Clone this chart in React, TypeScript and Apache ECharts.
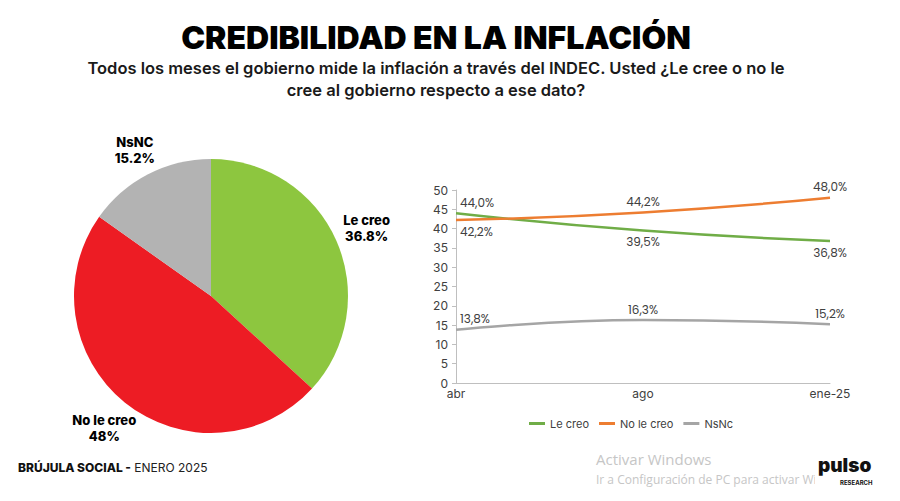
import React, { useEffect, useRef } from "react";
import * as echarts from "echarts";

const pieNames = ["Le creo", "No le creo", "NsNC"];
const pieValues = [36.8, 48, 15.2];
const pieLabels = ["36.8%", "48%", "15.2%"];
const pieColors = ["#8DC63F", "#ED1C24", "#B3B3B3"];

const months = ["abr", "ago", "ene-25"];
const seriesNames = ["Le creo", "No le creo", "NsNc"];
const leCreo = [44.0, 39.5, 36.8];
const noLeCreo = [42.2, 44.2, 48.0];
const nsnc = [13.8, 16.3, 15.2];
const lineColors = ["#70AD47", "#ED7D31", "#A5A5A5"];
const labelPos = [
  ["top", "bottom", "bottom"],
  ["bottom", "top", "top"],
  ["top", "top", "top"],
];
const yTicks = { min: 0, max: 50, interval: 5 };

const fmt = (v: number) => v.toFixed(1).replace(".", ",") + "%";

export default function App() {
  const ref = useRef<HTMLDivElement>(null);
  useEffect(() => {
    document.body.style.margin = "0";
    const chart = echarts.init(ref.current!, null, { renderer: "svg" });
    const lineData = [leCreo, noLeCreo, nsnc];
    const lineSeries = lineData.map((arr, si) => ({
      type: "line",
      name: seriesNames[si],
      smooth: 0.5,
      symbol: "circle",
      symbolSize: 0.1,
      showSymbol: true,
      lineStyle: { width: 2.5, color: lineColors[si] },
      itemStyle: { color: lineColors[si] },
      data: arr.map((v, i) => ({
        value: v,
        label:
          i === 0
            ? { show: true, position: labelPos[si][i], align: "left", offset: [4, 0] }
            : { show: true, position: labelPos[si][i] },
      })),
      label: {
        show: true,
        formatter: (p: any) => fmt(Number(p.value)),
        color: "#404040",
        fontSize: 12,
        fontFamily: "Poppins, Inter, sans-serif",
        distance: 5,
      },
      z: 3,
    }));
    chart.setOption({
      animation: false,
      backgroundColor: "#ffffff",
      textStyle: { fontFamily: "Inter, sans-serif" },
      title: [
        {
          text: "CREDIBILIDAD EN LA INFLACIÓN",
          left: 431,
          top: 16,
          textAlign: "center",
          textStyle: { fontSize: 32, fontWeight: 900, color: "#000", fontFamily: "Inter, sans-serif" },
        },
        {
          text: "Todos los meses el gobierno mide la inflación a través del INDEC. Usted ¿Le cree o no le\ncree al gobierno respecto a ese dato?",
          left: 431,
          top: 52,
          textAlign: "center",
          textStyle: {
            fontSize: 16.5,
            fontWeight: 600,
            color: "#1a1a1a",
            lineHeight: 22,
            align: "center",
            fontFamily: "Inter, sans-serif",
          },
        },
      ],
      legend: {
        data: seriesNames,
        left: 524,
        top: 413,
        icon: "rect",
        itemWidth: 16,
        itemHeight: 3,
        itemGap: 10,
        textStyle: { fontSize: 11, color: "#404040" },
      },
      grid: { left: 456, right: 70, top: 190, bottom: 118 },
      xAxis: {
        type: "category",
        data: months,
        boundaryGap: false,
        axisLine: { lineStyle: { color: "#bfbfbf", width: 1 } },
        axisTick: { show: false },
        axisLabel: { color: "#404040", fontSize: 12, margin: 4 },
      },
      yAxis: {
        type: "value",
        min: yTicks.min,
        max: yTicks.max,
        interval: yTicks.interval,
        axisLine: { show: true, lineStyle: { color: "#bfbfbf", width: 1 } },
        axisTick: { show: true, length: 4, lineStyle: { color: "#bfbfbf" } },
        splitLine: { show: false },
        axisLabel: { color: "#404040", fontSize: 12, margin: 8 },
      },
      graphic: [
        {
          type: "text",
          left: 18,
          top: 461,
          style: {
            text: "{b|BRÚJULA SOCIAL -} {n|ENERO 2025}",
            rich: {
              b: { fontSize: 12, fontWeight: 800, fill: "#111", fontFamily: "Inter, sans-serif" },
              n: { fontSize: 12, fontWeight: 400, fill: "#222", fontFamily: "Inter, sans-serif" },
            },
          },
        },
        {
          type: "text",
          left: 596,
          top: 451,
          style: { text: "Activar Windows", fontSize: 15, fill: "#c6c6c6", fontFamily: "Open Sans, sans-serif" },
        },
        {
          type: "text",
          left: 596,
          top: 473,
          style: {
            text: "Ir a Configuración de PC para activar Windows.",
            fontSize: 12,
            fill: "#c6c6c6",
            fontFamily: "Open Sans, sans-serif",
          },
        },
        {
          type: "rect",
          shape: { x: 815, y: 458, width: 62, height: 30 },
          style: { fill: "#ffffff" },
        },
        {
          type: "text",
          left: 818,
          top: 456,
          style: { text: "pulso", fontSize: 19, fontWeight: 900, fill: "#111", fontFamily: "Inter, sans-serif" },
        },
        {
          type: "text",
          left: 840,
          top: 479,
          style: { text: "RESEARCH", fontSize: 6, fontWeight: 700, fill: "#111", fontFamily: "Inter, sans-serif" },
        },
      ],
      series: [
        ...lineSeries,
        {
          type: "pie",
          name: "pie",
          center: [211, 296],
          radius: [0, 137],
          startAngle: 90,
          clockwise: true,
          label: { show: false },
          labelLine: { show: false },
          silent: true,
          data: pieNames.map((n, i) => ({ name: n, value: pieValues[i], itemStyle: { color: pieColors[i] } })),
        },
        {
          type: "pie",
          name: "pieLabels",
          center: [211, 296],
          radius: [150, 184],
          startAngle: 90,
          clockwise: true,
          silent: true,
          itemStyle: { color: "rgba(0,0,0,0)" },
          labelLine: { show: false },
          label: {
            show: true,
            position: "inside",
            formatter: (p: any) => p.name + "\n" + pieLabels[p.dataIndex],
            color: "#000",
            fontSize: 13,
            fontWeight: 800,
            lineHeight: 16,
            align: "center",
            fontFamily: "Inter, sans-serif",
          },
          data: pieNames.map((n, i) => ({
            name: n,
            value: pieValues[i],
            label: i === 2 ? { offset: [2, 5] } : {},
          })),
        },
      ],
    });
    return () => chart.dispose();
  }, []);
  return <div ref={ref} style={{ width: 900, height: 501, position: "absolute", left: 0, top: 0 }} />;
}
